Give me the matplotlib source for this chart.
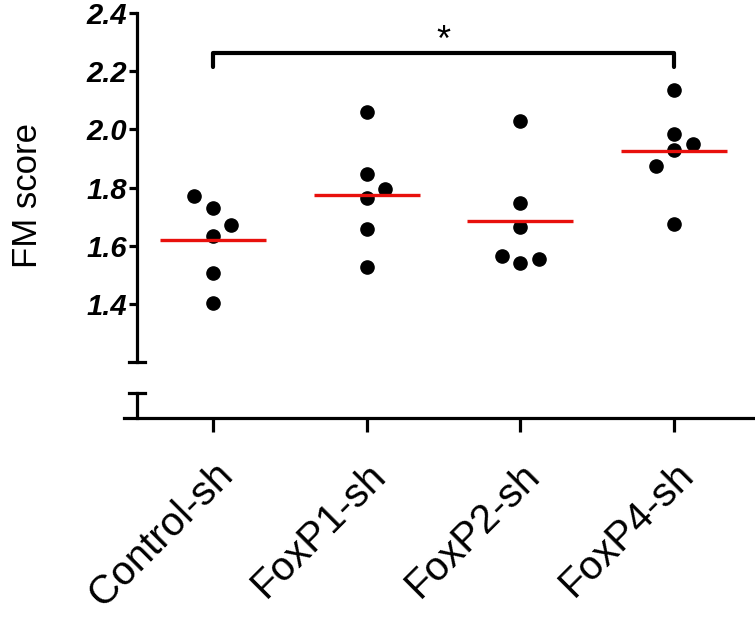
import matplotlib
matplotlib.use("Agg")
import matplotlib.pyplot as plt
from matplotlib.lines import Line2D
import numpy as np

# ── data ──────────────────────────────────────────────────────────────────────
groups = ["Control-sh", "FoxP1-sh", "FoxP2-sh", "FoxP4-sh"]
fm_control = [1.771, 1.730, 1.673, 1.634, 1.507, 1.404]
fm_foxp1 = [2.061, 1.846, 1.795, 1.765, 1.659, 1.528]
fm_foxp2 = [2.029, 1.746, 1.666, 1.565, 1.542, 1.554]
fm_foxp4 = [2.135, 1.984, 1.949, 1.929, 1.875, 1.674]
# horizontal scatter offsets of the dots (category units)
jitter_control = [-0.12, 0.0, 0.12, 0.0, 0.0, 0.0]
jitter_foxp1 = [0.0, 0.0, 0.12, 0.0, 0.0, 0.0]
jitter_foxp2 = [0.0, 0.0, 0.0, -0.12, 0.0, 0.12]
jitter_foxp4 = [0.0, 0.0, 0.12, 0.0, -0.12, 0.0]
y_ticks = [1.4, 1.6, 1.8, 2.0, 2.2, 2.4]
sig_pair = (0, 3)
sig_label = "*"

values = [fm_control, fm_foxp1, fm_foxp2, fm_foxp4]
jitters = [jitter_control, jitter_foxp1, jitter_foxp2, jitter_foxp4]

plt.rcParams["font.family"] = ["Liberation Sans", "DejaVu Sans"]

W, H = 755, 617
fig = plt.figure(figsize=(W / 100, H / 100), dpi=100)
ax = fig.add_axes([137 / W, 1 - 418 / H, 1 - 137 / W, (418 - 13) / H])

ymin = 1.4 - (418 - 304) / 291
ax.set_ylim(ymin, 2.4)
ax.set_xlim(-0.494, 3.526)

for i, (vals, jit) in enumerate(zip(values, jitters)):
    xs = i + np.array(jit)
    ax.plot(xs, vals, "o", color="black", markersize=9.5, clip_on=False, zorder=3)
    m = np.mean(vals)
    ax.plot([i - 0.345, i + 0.345], [m, m], color="#e8100c", linewidth=2.4,
            solid_capstyle="butt", zorder=4)

for s in ["top", "right", "left", "bottom"]:
    ax.spines[s].set_visible(False)

lw = 2.3
# broken y axis, drawn by hand
y_cut = 1.2
y_restart = 1.4 - (393 - 304) / 291
ax.plot([0, 0], [y_cut, 2.4], transform=ax.get_yaxis_transform(),
        color="black", lw=lw, clip_on=False, solid_capstyle="projecting")
ax.plot([0, 0], [ymin, y_restart], transform=ax.get_yaxis_transform(),
        color="black", lw=lw, clip_on=False)
cap = 8 / (W - 137)
for yc in (y_cut, y_restart):
    ax.plot([-cap, cap], [yc, yc], transform=ax.get_yaxis_transform(),
            color="black", lw=lw, clip_on=False)
# x axis line (starts a little left of the y axis)
ax.add_line(Line2D([-13 / (W - 137), 1], [0, 0], transform=ax.transAxes,
                   color="black", lw=lw, clip_on=False))

ax.set_yticks(y_ticks)
ax.set_yticklabels([f"{t:.1f}" for t in y_ticks], fontsize=21,
                   fontweight="bold", fontstyle="italic")
ax.tick_params(axis="y", length=6, width=lw, pad=1)
ax.set_xticks(range(len(groups)))
ax.set_xticklabels(groups, rotation=45, ha="right", va="top",
                   rotation_mode="anchor", fontsize=29)
ax.tick_params(axis="x", length=10, width=lw, pad=17)
ax.set_ylabel("FM score", fontsize=25)
ax.yaxis.set_label_coords(-0.15, 0.55)

# significance bracket
x0, x1 = sig_pair
yb, yleg = 2.263, 2.214
ax.plot([x0, x0, x1, x1], [yleg, yb, yb, yleg], color="black", lw=3,
        solid_joinstyle="round", solid_capstyle="round", clip_on=False)
ax.text((x0 + x1) / 2, yb - 0.02, sig_label, ha="center", va="bottom",
        fontsize=26)

fig.savefig("out.png", dpi=100)
